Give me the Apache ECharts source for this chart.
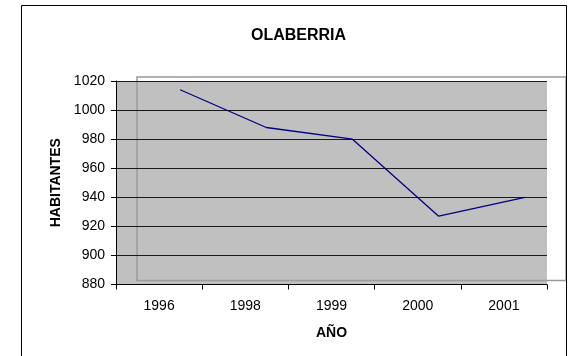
<!DOCTYPE html>
<html>
<head>
<meta charset="utf-8">
<script src="https://cdn.jsdelivr.net/npm/echarts@6/dist/echarts.min.js"></script>
<style>
  html, body { margin: 0; padding: 0; background: #fff; }
  #chart { width: 569px; height: 356px; }
</style>
</head>
<body>
<div id="chart"></div>
<script>
// Population of Olaberria by year
const years = ['1996', '1998', '1999', '2000', '2001'];
const habitantes = [1014, 988, 980, 927, 940];
const yMin = 880, yMax = 1020, yStep = 20;

const FONT = "'Liberation Sans', Arial, sans-serif";
const chart = echarts.init(document.getElementById('chart'), null, { renderer: 'canvas' });

chart.setOption({
  animation: false,
  backgroundColor: '#ffffff',
  title: {
    text: 'OLABERRIA',
    left: 246,
    top: 23,
    textStyle: { fontFamily: FONT, fontSize: 16, fontWeight: 'bold', color: '#000' }
  },
  graphic: [{
    type: 'rect',
    shape: { x: 21.5, y: 5.5, width: 545, height: 400 },
    style: { fill: 'none', stroke: '#000', lineWidth: 1 },
    silent: true
  }],
  grid: [
    // main plot area with grey wall
    { left: 116, right: 22, top: 81, bottom: 71.5, show: true, backgroundColor: '#c0c0c0', borderWidth: 0 },
    // shifted plane that carries the line
    { left: 137, right: 1, top: 81, bottom: 71.5, show: false },
    // outline of the back wall
    { left: 137, right: 3, top: 77, bottom: 75.5, show: true, backgroundColor: 'transparent', borderColor: '#9a9a9a', borderWidth: 1.5 }
  ],
  xAxis: [
    {
      type: 'category', gridIndex: 0, data: years, boundaryGap: true,
      name: 'AÑO', nameLocation: 'middle', nameGap: 42,
      nameTextStyle: { fontFamily: FONT, fontSize: 14, fontWeight: 'bold', color: '#000' },
      axisLine: { lineStyle: { color: '#000', width: 1 } },
      axisTick: { show: true, length: 5, lineStyle: { color: '#000' } },
      axisLabel: { fontFamily: FONT, fontSize: 14, color: '#000', margin: 15 },
      splitLine: { show: false }
    },
    { type: 'category', gridIndex: 1, data: years, boundaryGap: true, show: false },
    { type: 'category', gridIndex: 2, data: years, show: false }
  ],
  yAxis: [
    {
      type: 'value', gridIndex: 0, min: yMin, max: yMax, interval: yStep,
      name: 'HABITANTES', nameLocation: 'middle', nameGap: 40, nameRotate: 90,
      nameTextStyle: { fontFamily: FONT, fontSize: 14, fontWeight: 'bold', color: '#000' },
      axisLine: { show: true, lineStyle: { color: '#000', width: 1 } },
      axisTick: { show: true, length: 5, lineStyle: { color: '#000' } },
      axisLabel: { fontFamily: FONT, fontSize: 14, color: '#000', margin: 11, formatter: v => String(v) },
      splitLine: { show: true, lineStyle: { color: '#1a1a1a', width: 1 } }
    },
    { type: 'value', gridIndex: 1, min: yMin, max: yMax, interval: yStep, show: false, splitLine: { show: false } },
    { type: 'value', gridIndex: 2, min: yMin, max: yMax, show: false, splitLine: { show: false } }
  ],
  series: [{
    type: 'line',
    xAxisIndex: 1, yAxisIndex: 1,
    data: habitantes,
    symbol: 'none',
    lineStyle: { color: '#000080', width: 1.3 },
    z: 5
  }]
});
</script>
</body>
</html>
